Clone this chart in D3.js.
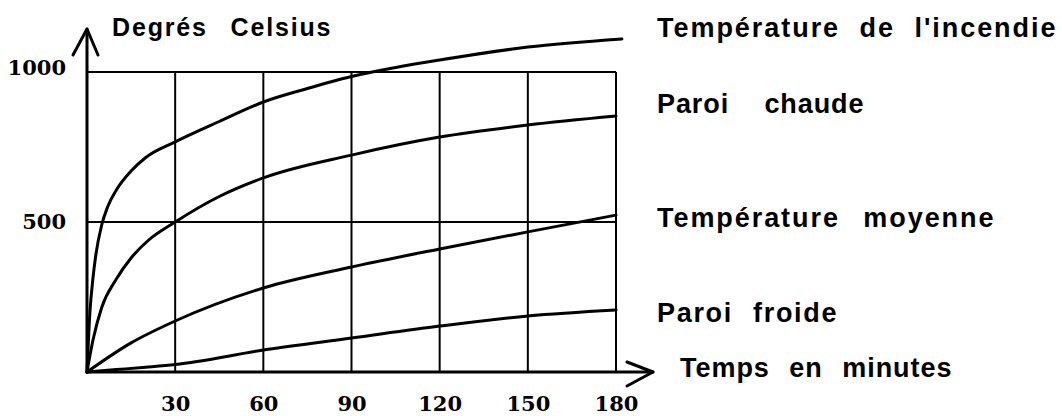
<!DOCTYPE html>
<html>
<head>
<meta charset="utf-8">
<script src="https://cdn.jsdelivr.net/npm/d3@7"></script>
<style>
  body { margin: 0; background: #fff; }
  svg { display: block; }
  .lbl { font-family: "Liberation Sans", Arial, sans-serif; font-weight: bold; fill: #000; letter-spacing: 1.5px; }
  .num { font-family: "DejaVu Serif", serif; font-weight: bold; fill: #000; }
</style>
</head>
<body>
<svg id="chart" width="1062" height="416"></svg>
<script>
// minutes -> degrees
var incendieT = [0, 1, 2, 3, 5, 7, 10, 15, 20, 30, 45, 60, 75, 90, 105, 120, 150, 182];
var incendieV = [0, 200, 310, 390, 490, 550, 607, 670, 715, 767, 835, 900, 945, 985, 1015, 1040, 1083, 1110];

var chaudeT = [0, 2, 5, 10, 15, 21, 30, 45, 60, 90, 120, 150, 180];
var chaudeV = [0, 105, 215, 310, 380, 440, 500, 585, 647, 723, 783, 823, 853];

var moyenneT = [0, 15, 30, 60, 90, 120, 150, 180];
var moyenneV = [0, 97, 170, 280, 350, 410, 467, 523];

var froideT = [0, 10, 20, 30, 60, 90, 120, 150, 180];
var froideV = [0, 8, 16, 25, 73, 113, 153, 187, 207];

var xTicks = [30, 60, 90, 120, 150, 180];
var yTicks = [500, 1000];

var seriesNames = ["Température de l'incendie", "Paroi chaude", "Température moyenne", "Paroi froide"];

var svg = d3.select("#chart");

var x = d3.scaleLinear().domain([0, 180]).range([87, 616]);
var y = d3.scaleLinear().domain([0, 1000]).range([372, 72]);

// grid
var grid = svg.append("g").attr("stroke", "#000").attr("stroke-width", 2);
grid.selectAll("line.v")
  .data(xTicks)
  .join("line")
  .attr("class", "v")
  .attr("x1", d => x(d)).attr("x2", d => x(d))
  .attr("y1", y(0)).attr("y2", y(1000));
grid.selectAll("line.h")
  .data(yTicks)
  .join("line")
  .attr("class", "h")
  .attr("x1", x(0)).attr("x2", x(180))
  .attr("y1", d => y(d)).attr("y2", d => y(d));

// axes with arrows
var ax = svg.append("g").attr("stroke", "#000").attr("stroke-width", 3)
  .attr("fill", "none").attr("stroke-linecap", "round").attr("stroke-linejoin", "round");
ax.append("line").attr("x1", x(0)).attr("x2", x(0)).attr("y1", y(0)).attr("y2", 29);
ax.append("path").attr("d", "M73,55 L" + x(0) + ",29 L98,55");
ax.append("line").attr("x1", x(0)).attr("x2", 653).attr("y1", y(0)).attr("y2", y(0));
ax.append("path").attr("d", "M627,362 L653," + y(0) + " L627,386");

// curves
var line = d3.line()
  .x(d => x(d[0]))
  .y(d => y(d[1]))
  .curve(d3.curveMonotoneX);

var series = [
  d3.zip(incendieT, incendieV),
  d3.zip(chaudeT, chaudeV),
  d3.zip(moyenneT, moyenneV),
  d3.zip(froideT, froideV)
];

svg.append("g")
  .selectAll("path")
  .data(series)
  .join("path")
  .attr("fill", "none")
  .attr("stroke", "#000")
  .attr("stroke-width", 3)
  .attr("stroke-linecap", "round")
  .attr("d", line);

// tick labels
var xAxis = svg.append("g")
  .attr("transform", "translate(0," + y(0) + ")")
  .call(d3.axisBottom(x).tickValues(xTicks).tickSize(0).tickPadding(24));
xAxis.select(".domain").remove();
xAxis.selectAll("text").attr("class", "num").attr("font-size", 21).attr("font-family", null);

var yAxis = svg.append("g")
  .attr("transform", "translate(66,0)")
  .call(d3.axisLeft(y).tickValues(yTicks).tickFormat(d3.format("d")).tickSize(0).tickPadding(0));
yAxis.select(".domain").remove();
yAxis.selectAll("text").attr("class", "num").attr("font-size", 21).attr("font-family", null)
  .attr("dy", d => d === 1000 ? "0.1em" : "0.3em");

// titles
svg.append("text").attr("class", "lbl")
  .attr("x", 112).attr("y", 36)
  .attr("font-size", 25)
  .attr("word-spacing", 14)
  .attr("textLength", 220).attr("lengthAdjust", "spacing")
  .text("Degrés Celsius");

svg.append("text").attr("class", "lbl")
  .attr("x", 680).attr("y", 377)
  .attr("font-size", 27)
  .attr("word-spacing", 11)
  .attr("textLength", 273).attr("lengthAdjust", "spacing")
  .text("Temps en minutes");

// series labels on the right
var labelY = [37, 113, 227, 322];
var labelW = [400, 208, 338, 181];
var labelGap = [10, 27, 14, 11];
svg.append("g")
  .selectAll("text")
  .data(seriesNames)
  .join("text")
  .attr("class", "lbl")
  .attr("x", 657)
  .attr("y", (d, i) => labelY[i])
  .attr("font-size", 27)
  .attr("word-spacing", (d, i) => labelGap[i])
  .attr("textLength", (d, i) => labelW[i])
  .attr("lengthAdjust", "spacing")
  .text(d => d);
</script>
</body>
</html>
